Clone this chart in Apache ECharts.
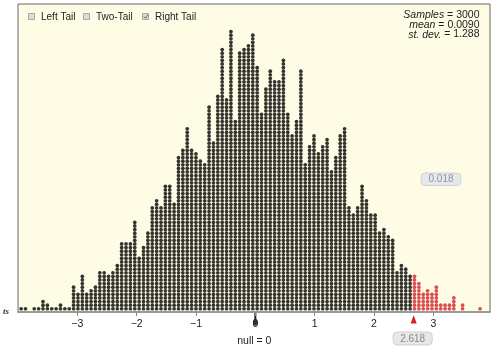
<!DOCTYPE html>
<html>
<head>
<meta charset="utf-8">
<script src="https://cdn.jsdelivr.net/npm/echarts@6/dist/echarts.min.js"></script>
<style>
html, body { margin: 0; padding: 0; background: #fff; }
#chart { width: 501px; height: 353px; }
</style>
</head>
<body>
<div id="chart"></div>
<script>
// 每一列的点数 (从左到右), 每个点代表一个样本
const binStart = -3.947
const binWidth = 0.07366
const counts = [
  1, 1, 0, 1, 1, 3, 2, 1, 1, 2, 1, 1,
  7, 5, 10, 5, 6, 7, 11, 11, 10, 11, 13,
  19, 19, 19, 25, 15, 18, 22, 29, 31, 29, 35, 35, 30,
  43, 45, 51, 45, 44, 42, 41, 57, 47, 60, 73, 59,
  78, 53, 72, 73, 74, 77, 68, 55, 62, 67, 64, 64,
  70, 55, 49, 53, 67, 41, 46, 49, 44, 46, 48, 39,
  43, 49, 51, 29, 27, 29, 35, 31, 27, 27, 22, 23, 21, 20, 11, 13, 12, 10,
  10, 8, 5, 6, 5, 7, 2, 2, 2, 4, 0, 2, 0, 0, 0, 1
]
const cutoff = 2.618 // 右尾临界值
const pValue = '0.018'
const xTicks = [-3, -2, -1, 0, 1, 2, 3]
const tailNames = ['Left Tail', 'Two-Tail', 'Right Tail']
const statLabels = ['Samples', 'mean', 'st. dev.']
const statValues = ['3000', '0.0090', '1.288']

const chartDom = document.getElementById('chart')
const chart = echarts.init(chartDom, null, { renderer: 'canvas' })

// 把计数展开成一个个点
const blackDots = []
const redDots = []
counts.forEach((n, k) => {
  const x = binStart + k * binWidth
  for (let j = 0; j < n; j++) {
    if (x >= cutoff) redDots.push([x, j])
    else blackDots.push([x, j])
  }
})

const font = 'Liberation Sans'
const option = {
  animation: false,
  backgroundColor: '#fff',
  grid: {
    left: 18,
    right: 11,
    top: 4,
    bottom: 41,
    show: true,
    backgroundColor: '#fffce6',
    borderColor: '#666',
    borderWidth: 1
  },
  xAxis: {
    type: 'value',
    min: -4,
    max: 3.955,
    splitLine: { show: false },
    axisLine: { show: true, onZero: false, lineStyle: { color: '#9a9a9a', width: 2 } },
    axisTick: { show: true, length: 4, customValues: xTicks, lineStyle: { color: '#888' } },
    axisLabel: {
      customValues: xTicks,
      margin: 7,
      fontFamily: font,
      fontSize: 10.5,
      color: '#222',
      formatter: v => String(v).replace('-', '\u2212')
    }
  },
  yAxis: {
    type: 'value',
    min: -0.9,
    max: 84.66,
    show: false,
    splitLine: { show: false }
  },
  series: [
    {
      type: 'scatter',
      silent: true,
      symbol: 'circle',
      symbolSize: 3.7,
      itemStyle: { color: '#000' },
      data: blackDots
    },
    {
      type: 'scatter',
      silent: true,
      symbol: 'circle',
      symbolSize: 3.7,
      itemStyle: { color: '#d3202c' },
      data: redDots
    }
  ]
}
chart.setOption(option)

// 注释图形 (复选框, 统计量, 标记)
const zeroX = chart.convertToPixel({ xAxisIndex: 0 }, 0)
const cutX = chart.convertToPixel({ xAxisIndex: 0 }, cutoff) + 3
const boxX = [28.5, 83.5, 142.5]
const graphics = []
tailNames.forEach((name, i) => {
  graphics.push({
    type: 'rect',
    shape: { x: boxX[i], y: 13.5, width: 6, height: 6 },
    style: { fill: '#dcdcdc', stroke: '#a8a8a8', lineWidth: 1 }
  })
  graphics.push({
    type: 'text',
    style: {
      text: name, x: boxX[i] + 12.5, y: 17, verticalAlign: 'middle',
      font: '10px "Liberation Sans"', fill: '#222'
    }
  })
})
graphics.push({
  type: 'polyline',
  shape: { points: [[144, 16.5], [145.5, 18.3], [148, 14.5]] },
  style: { stroke: '#666', lineWidth: 1, fill: null }
})
statLabels.forEach((lab, i) => {
  graphics.push({
    type: 'text',
    style: {
      text: '{i|' + lab + '} = ' + statValues[i],
      x: 479.5, y: 15 + i * 9.8, align: 'right', verticalAlign: 'middle',
      fontFamily: font, fontSize: 10.5, fill: '#222',
      rich: { i: { fontStyle: 'italic', fontFamily: font, fontSize: 10.5, fill: '#222' } }
    }
  })
})
// p 值框
graphics.push({
  type: 'rect',
  shape: { x: 421, y: 173, width: 40, height: 12.5, r: 4 },
  style: { fill: '#e7e8ea', stroke: '#cfd2d6', lineWidth: 1 }
})
graphics.push({
  type: 'text',
  style: {
    text: pValue, x: 441, y: 179.5, align: 'center', verticalAlign: 'middle',
    font: '10px "Liberation Sans"', fill: '#8896a5'
  }
})
// 观测值三角和框
graphics.push({
  type: 'polygon',
  shape: { points: [[cutX, 315], [cutX - 3, 323.5], [cutX + 3, 323.5]] },
  style: { fill: '#d3202c' }
})
graphics.push({
  type: 'rect',
  shape: { x: cutX - 20.5, y: 332, width: 39, height: 13, r: 4 },
  style: { fill: '#e8e8e8', stroke: '#cfcfcf', lineWidth: 1 }
})
graphics.push({
  type: 'text',
  style: {
    text: String(cutoff), x: cutX - 1, y: 338.8, align: 'center', verticalAlign: 'middle',
    font: '10px "Liberation Sans"', fill: '#8a8a8a'
  }
})
// 零假设标记
graphics.push({
  type: 'line',
  shape: { x1: zeroX, y1: 313, x2: zeroX, y2: 321 },
  style: { stroke: '#222', lineWidth: 2 }
})
graphics.push({
  type: 'ellipse',
  shape: { cx: zeroX, cy: 322.5, rx: 2.2, ry: 3.2 },
  style: { fill: '#333' }
})
graphics.push({
  type: 'text',
  style: {
    text: 'null = 0', x: zeroX - 1, y: 341, align: 'center', verticalAlign: 'middle',
    font: '10.5px "Liberation Sans"', fill: '#222'
  }
})
graphics.push({
  type: 'text',
  style: {
    text: 'ts', x: 9, y: 312, align: 'right', verticalAlign: 'middle',
    font: 'italic bold 9px "Liberation Serif"', fill: '#333'
  }
})
chart.setOption({ graphic: graphics })

window.addEventListener('resize', () => chart.resize())
</script>
</body>
</html>
